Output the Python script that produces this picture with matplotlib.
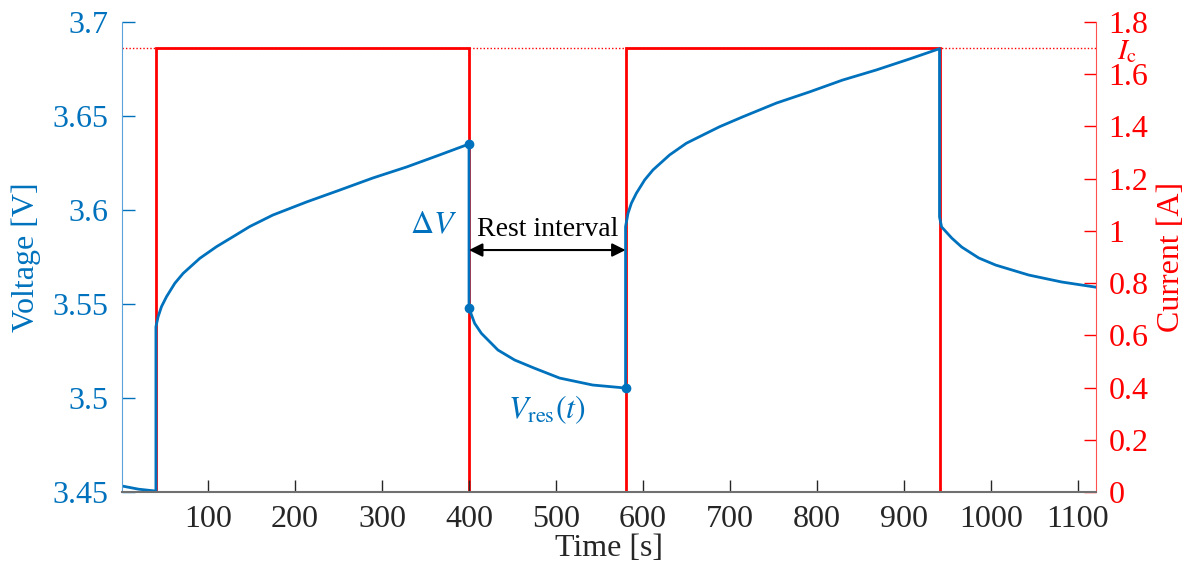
import numpy as np
import matplotlib
matplotlib.use('Agg')
import matplotlib.pyplot as plt

plt.rcParams['font.family'] = ['Liberation Serif', 'DejaVu Serif']
plt.rcParams['mathtext.fontset'] = 'stix'

BLUE = '#0072BD'
RED = '#FF0000'
DARK = '#262626'

# voltage response, one array pair per phase
t_init = [1, 20, 40]
v_init = [3.4532, 3.4515, 3.4505]

t_chg1 = [40, 42.5, 46.4, 52.2, 61.7, 71.3, 90.5, 109.7, 128.7, 147.9, 174.4, 213.4,
          251.4, 289.3, 328.4, 366.3, 400]
v_chg1 = [3.5379, 3.5432, 3.5486, 3.5539, 3.5610, 3.5663, 3.5743, 3.5805, 3.5858, 3.5912,
          3.5973, 3.6043, 3.6106, 3.6170, 3.6229, 3.6293, 3.6351]

t_rest1 = [400, 406.5, 414.2, 433.3, 452.5, 475.5, 504.2, 542.2, 580]
v_rest1 = [3.5477, 3.5397, 3.5344, 3.5255, 3.5202, 3.5158, 3.5106, 3.5069, 3.5053]

t_chg2 = [580, 582.8, 586.7, 592.4, 602, 611.5, 630.7, 649.9, 669, 688.2, 714.5, 753.6,
          791.5, 829.5, 868.5, 906.4, 941]
v_chg2 = [3.5911, 3.5982, 3.6036, 3.6089, 3.6160, 3.6213, 3.6293, 3.6355, 3.6399, 3.6443,
          3.6495, 3.6569, 3.6628, 3.6691, 3.6745, 3.6803, 3.6858]

t_rest2 = [941, 943.4, 955, 966.5, 986, 1005.6, 1043.6, 1081.5, 1120]
v_rest2 = [3.5963, 3.5910, 3.5851, 3.5803, 3.5745, 3.5707, 3.5654, 3.5617, 3.5590]

# applied current pulses
step_edges = [1, 40, 400, 580, 941, 1121]
step_current = [0, 1.7, 0, 1.7, 0]
I_c = 1.7

# marked points: end of charge, start of rest, end of rest
mark_t = [400, 400, 580]
mark_v = [3.6351, 3.5477, 3.5053]

time = np.concatenate([t_init, t_chg1, t_rest1, t_chg2, t_rest2])
volt = np.concatenate([v_init, v_chg1, v_rest1, v_chg2, v_rest2])

fig = plt.figure(figsize=(11.95, 5.65), dpi=100)
ax = fig.add_axes([0.1021, 0.1292, 0.8151, 0.8319])
ax2 = ax.twinx()
ax.set_zorder(ax2.get_zorder() + 1)
ax.patch.set_visible(False)

FS = 23

# current on the right axis
ax2.stairs(step_current, step_edges, color=RED, lw=2, baseline=None)
ax2.axhline(I_c, color=RED, lw=1, ls=(0, (1, 1.5)))
ax2.set_ylim(0, 1.8)
ax2.set_yticks(np.arange(0, 1.81, 0.2))
ax2.set_yticklabels(['0', '0.2', '0.4', '0.6', '0.8', '1', '1.2', '1.4', '1.6', '1.8'])
ax2.tick_params(axis='y', direction='in', colors=RED, labelsize=FS, length=9, width=1, pad=9)
ax2.set_ylabel('Current [A]', color=RED, fontsize=FS, labelpad=6)
ax2.text(1.021, (I_c - 0.015) / 1.8, r'$I_\mathrm{c}$', transform=ax2.transAxes,
         color=RED, fontsize=21, va='center', ha='left')

# voltage on the left axis
ax.plot(time, volt, color=BLUE, lw=2)
ax.plot(mark_t, mark_v, 'o', color=BLUE, ms=6)
ax.set_xlim(1, 1121)
ax.set_ylim(3.45, 3.7)
ax.set_xticks(np.arange(100, 1101, 100))
ax.set_yticks([3.45, 3.5, 3.55, 3.6, 3.65, 3.7])
ax.set_yticklabels(['3.45', '3.5', '3.55', '3.6', '3.65', '3.7'])
ax.tick_params(axis='y', direction='in', colors=BLUE, labelsize=FS, length=9, width=1, pad=10)
ax.tick_params(axis='x', direction='in', colors=DARK, labelsize=FS, length=9, width=1, pad=9)
ax.set_ylabel('Voltage [V]', color=BLUE, fontsize=FS, labelpad=8)
ax.set_xlabel('Time [s]', color=DARK, fontsize=FS, labelpad=0)

for a in (ax, ax2):
    a.spines['top'].set_visible(False)
ax.spines['left'].set_color('#5aa2da')
ax.spines['right'].set_visible(False)
ax.spines['bottom'].set_color('#707070')
ax.spines['bottom'].set_linewidth(1.5)
ax2.spines['left'].set_visible(False)
ax2.spines['bottom'].set_visible(False)
ax2.spines['right'].set_color('#ff5050')

# rest interval annotation
ax.annotate('', xy=(400, 3.5787), xytext=(580, 3.5787),
            arrowprops=dict(arrowstyle='<|-|>', color='black', lw=1.5,
                            mutation_scale=20, shrinkA=0, shrinkB=0))
ax.text(490, 3.5895, 'Rest interval', ha='center', va='center', fontsize=20, color='black')
ax.text(386, 3.5915, r'$\Delta V$', ha='right', va='center', fontsize=FS, color=BLUE)
ax.text(490, 3.4935, r'$V_\mathrm{res}(t)$', ha='center', va='center', fontsize=FS, color=BLUE)

fig.savefig('out.png', dpi=100)
